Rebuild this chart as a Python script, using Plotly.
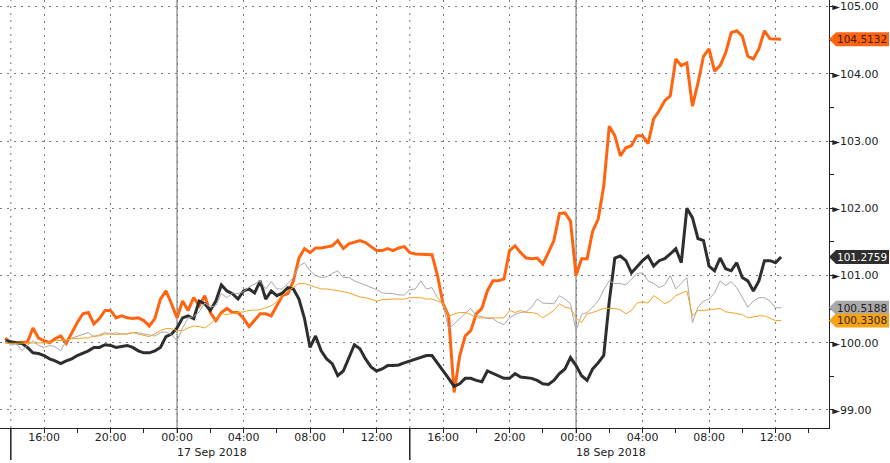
import pandas as pd
import plotly.graph_objects as go

# ---------------- data ----------------
times = pd.date_range("2018-09-16 13:40", periods=141, freq="20min")

orange = [
    100.07, 100.00, 100.00, 100.00, 100.01, 100.22, 100.07, 100.03, 100.00, 100.06,
    100.10, 99.99, 100.15, 100.30, 100.43, 100.45, 100.28, 100.36, 100.48, 100.48,
    100.37, 100.40, 100.37, 100.36, 100.37, 100.33, 100.25, 100.36, 100.65, 100.77,
    100.58, 100.37, 100.62, 100.48, 100.67, 100.55, 100.70, 100.45, 100.33, 100.45,
    100.51, 100.45, 100.45, 100.36, 100.24, 100.33, 100.43, 100.43, 100.40, 100.55,
    100.70, 100.73, 100.92, 101.26, 101.40, 101.34, 101.41, 101.41, 101.43, 101.44,
    101.52, 101.40, 101.47, 101.49, 101.52, 101.49, 101.43, 101.37, 101.37, 101.40,
    101.37, 101.41, 101.43, 101.34, 101.32, 101.32, 101.32, 101.31, 101.00, 100.58,
    100.40, 99.26, 99.80, 100.10, 100.18, 100.43, 100.51, 100.77, 100.92, 100.92,
    100.95, 101.37, 101.44, 101.34, 101.26, 101.25, 101.26, 101.17, 101.34, 101.52,
    101.92, 101.93, 101.81, 101.00, 101.25, 101.25, 101.66, 101.84, 102.33, 103.22,
    103.08, 102.78, 102.90, 102.93, 103.08, 103.08, 102.96, 103.33, 103.45, 103.60,
    103.67, 104.22, 104.12, 104.16, 103.52, 103.86, 104.26, 104.37, 104.04, 104.12,
    104.31, 104.61, 104.64, 104.56, 104.26, 104.22, 104.37, 104.64, 104.52, 104.52, 104.5132,
]

black = [
    100.03, 100.01, 100.00, 99.99, 99.93, 99.85, 99.84, 99.81, 99.76, 99.73,
    99.69, 99.73, 99.76, 99.81, 99.84, 99.88, 99.93, 99.93, 99.97, 99.96,
    99.93, 99.94, 99.96, 99.93, 99.88, 99.85, 99.85, 99.88, 99.93, 100.09,
    100.13, 100.22, 100.37, 100.40, 100.36, 100.62, 100.58, 100.48, 100.62, 100.86,
    100.77, 100.73, 100.65, 100.77, 100.80, 100.74, 100.92, 100.65, 100.77, 100.70,
    100.74, 100.82, 100.80, 100.65, 100.36, 99.93, 100.10, 99.88, 99.76, 99.69,
    99.51, 99.58, 99.79, 99.97, 99.91, 99.76, 99.64, 99.58, 99.61, 99.66,
    99.66, 99.67, 99.70, 99.73, 99.76, 99.78, 99.81, 99.81, 99.70, 99.58,
    99.47, 99.35, 99.39, 99.47, 99.47, 99.44, 99.42, 99.58, 99.54, 99.51,
    99.47, 99.47, 99.54, 99.49, 99.48, 99.47, 99.44, 99.39, 99.38, 99.44,
    99.54, 99.61, 99.78, 99.66, 99.51, 99.44, 99.61, 99.70, 99.81, 100.62,
    101.26, 101.29, 101.22, 101.04, 101.13, 101.22, 101.29, 101.14, 101.22, 101.25,
    101.32, 101.40, 101.19, 102.00, 101.86, 101.55, 101.52, 101.14, 101.07, 101.26,
    101.10, 101.07, 101.19, 100.97, 100.92, 100.77, 100.92, 101.22, 101.22, 101.19, 101.2759,
]

gray = [
    100.03, 99.96, 99.99, 99.88, 99.96, 100.03, 99.96, 99.93, 99.96, 99.94,
    99.88, 100.03, 100.07, 100.10, 100.13, 100.15, 100.09, 100.12, 100.15, 100.13,
    100.15, 100.13, 100.13, 100.15, 100.15, 100.13, 100.12, 100.10, 100.15, 100.16,
    100.12, 100.03, 100.22, 100.37, 100.39, 100.46, 100.59, 100.53, 100.55, 100.73,
    100.67, 100.74, 100.73, 100.76, 100.83, 100.88, 100.92, 100.80, 100.91, 100.80,
    100.80, 100.88, 100.97, 101.14, 101.19, 101.07, 101.00, 100.97, 100.98, 101.03,
    101.07, 100.97, 100.97, 100.92, 100.89, 100.85, 100.82, 100.79, 100.74, 100.74,
    100.73, 100.71, 100.71, 100.79, 100.80, 100.92, 100.80, 100.82, 100.67, 100.58,
    100.21, 100.28, 100.36, 100.43, 100.51, 100.40, 100.39, 100.36, 100.36, 100.30,
    100.27, 100.37, 100.42, 100.45, 100.46, 100.53, 100.65, 100.59, 100.59, 100.58,
    100.70, 100.65, 100.58, 100.18, 100.42, 100.45, 100.53, 100.62, 100.79, 100.92,
    100.88, 100.88, 100.86, 100.95, 101.03, 101.04, 100.92, 100.88, 100.82, 100.86,
    101.00, 100.80, 100.89, 100.97, 100.30, 100.53, 100.62, 100.65, 100.74, 100.92,
    100.85, 100.91, 100.82, 100.68, 100.53, 100.62, 100.67, 100.67, 100.62, 100.52, 100.5188,
]

gold = [
    99.99, 99.99, 99.99, 99.99, 99.99, 99.99, 99.99, 99.99, 100.00, 100.03,
    100.03, 100.04, 100.06, 100.07, 100.07, 100.07, 100.10, 100.10, 100.13, 100.13,
    100.12, 100.13, 100.13, 100.15, 100.13, 100.12, 100.09, 100.13, 100.18, 100.21,
    100.21, 100.18, 100.18, 100.22, 100.25, 100.24, 100.22, 100.28, 100.36, 100.43,
    100.42, 100.43, 100.45, 100.46, 100.48, 100.48, 100.49, 100.52, 100.55, 100.61,
    100.70, 100.77, 100.83, 100.88, 100.88, 100.85, 100.82, 100.80, 100.80, 100.79,
    100.77, 100.76, 100.74, 100.71, 100.68, 100.67, 100.65, 100.62, 100.64, 100.65,
    100.65, 100.65, 100.65, 100.67, 100.67, 100.67, 100.65, 100.65, 100.62, 100.59,
    100.39, 100.43, 100.45, 100.45, 100.42, 100.37, 100.37, 100.37, 100.36, 100.36,
    100.37, 100.48, 100.45, 100.48, 100.45, 100.45, 100.43, 100.37, 100.43, 100.48,
    100.58, 100.53, 100.51, 100.37, 100.30, 100.43, 100.45, 100.48, 100.51, 100.51,
    100.51, 100.49, 100.43, 100.48, 100.59, 100.61, 100.59, 100.70, 100.65, 100.58,
    100.62, 100.70, 100.74, 100.77, 100.40, 100.48, 100.48, 100.49, 100.51, 100.51,
    100.46, 100.45, 100.43, 100.42, 100.37, 100.39, 100.40, 100.40, 100.36, 100.33, 100.3308,
]

y_ticks = [99, 100, 101, 102, 103, 104, 105]
x_tick_times = ["2018-09-16 16:00", "2018-09-16 20:00", "2018-09-17 00:00",
                "2018-09-17 04:00", "2018-09-17 08:00", "2018-09-17 12:00",
                "2018-09-17 16:00", "2018-09-17 20:00", "2018-09-18 00:00",
                "2018-09-18 04:00", "2018-09-18 08:00", "2018-09-18 12:00"]
x_tick_labels = ["16:00", "20:00", "00:00", "04:00", "08:00", "12:00",
                 "16:00", "20:00", "00:00", "04:00", "08:00", "12:00"]
day_starts = ["2018-09-17 00:00", "2018-09-18 00:00"]
day_labels = ["17 Sep 2018", "18 Sep 2018"]
session_starts = ["2018-09-16 14:00", "2018-09-17 14:00"]
x_range = ["2018-09-16 13:21", "2018-09-18 15:13"]
y_range = [98.732, 105.097]

# ---------------- styling ----------------
FONT = "DejaVu Sans"
GRID = "#7a7a7a"
DOT = "2px,5px"

series = [
    ("orange", orange, "#ff6410", 3.0, "#3a1a00"),
    ("black", black, "#2e2e2e", 3.0, "#ffffff"),
    ("gray", gray, "#a9a9a9", 1.0, "#222222"),
    ("gold", gold, "#f2a324", 1.0, "#3a2400"),
]

fig = go.Figure()
for name, vals, col, w, _ in series:
    fig.add_trace(go.Scatter(x=times, y=vals, mode="lines", name=name,
                             line=dict(color=col, width=w), hoverinfo="skip"))

shapes = []
annotations = []

# session (14:00) dotted grid lines and long separators under the axis
for t in session_starts:
    shapes.append(dict(type="line", xref="x", yref="paper", x0=t, x1=t, y0=0, y1=1,
                       line=dict(color=GRID, width=1, dash=DOT), layer="below"))
    shapes.append(dict(type="line", xref="x", yref="paper", x0=t, x1=t, y0=0, y1=-0.075,
                       line=dict(color="#222222", width=1.5)))
# day separators
for t in day_starts:
    shapes.append(dict(type="line", xref="x", yref="paper", x0=t, x1=t, y0=-0.012, y1=1,
                       line=dict(color="#8a8a8a", width=1.3), layer="below"))
for t, lab in zip(day_starts, day_labels):
    annotations.append(dict(x=t, xref="x", y=0, yref="paper", yanchor="middle",
                            xanchor="left", yshift=-24, xshift=-2, showarrow=False,
                            text=lab, font=dict(family=FONT, size=11, color="#222222")))

# end-value tags
for name, vals, col, w, tcol in series:
    v = vals[-1]
    shapes.append(dict(type="path", xref="paper", yref="y", xsizemode="pixel",
                       ysizemode="pixel", xanchor=1, yanchor=v,
                       path="M0,0 L7,7 L60,7 L60,-7 L7,-7 Z",
                       fillcolor=col if name != "gold" else "#f5a418",
                       line=dict(width=0), layer="above"))
    annotations.append(dict(x=1, xref="paper", y=v, yref="y", xanchor="left",
                            yanchor="middle", xshift=6, showarrow=False,
                            text=f"{v:.4f}",
                            font=dict(family=FONT, size=10.5, color=tcol)))

tri = "<span style='font-size:10px'>\u25BA</span>"
fig.update_layout(
    width=890, height=463,
    margin=dict(l=0, r=61, t=0, b=35),
    paper_bgcolor="white", plot_bgcolor="white",
    showlegend=False,
    shapes=shapes, annotations=annotations,
    xaxis=dict(
        type="date", range=x_range, automargin=False,
        tickvals=x_tick_times, ticktext=x_tick_labels,
        ticks="outside", ticklen=4, tickcolor="#222222", ticklabelstandoff=-5,
        showgrid=True, gridcolor=GRID, gridwidth=1, griddash=DOT,
        showline=True, linecolor="#222222", linewidth=1,
        tickfont=dict(family=FONT, size=11, color="#222222"),
        minor=dict(dtick=2 * 3600000, tick0="2018-09-16 14:00", ticks="outside",
                   ticklen=4, tickcolor="#222222", showgrid=False),
        zeroline=False,
    ),
    yaxis=dict(
        side="right", range=y_range, automargin=False,
        tickvals=y_ticks, ticktext=[f"{tri}{v:.2f}" for v in y_ticks],
        ticks="", showgrid=True, gridcolor=GRID, gridwidth=1, griddash=DOT,
        showline=True, linecolor="#222222", linewidth=1,
        tickfont=dict(family=FONT, size=11, color="#222222"),
        minor=dict(dtick=0.5, tick0=98.5, ticks="outside", ticklen=4,
                   tickcolor="#222222", showgrid=False),
        zeroline=False,
    ),
)

fig.write_html(
    "out.html",
    config={"displayModeBar": False},
    post_script="document.body.style.margin='0';document.body.style.overflow='hidden';",
)
